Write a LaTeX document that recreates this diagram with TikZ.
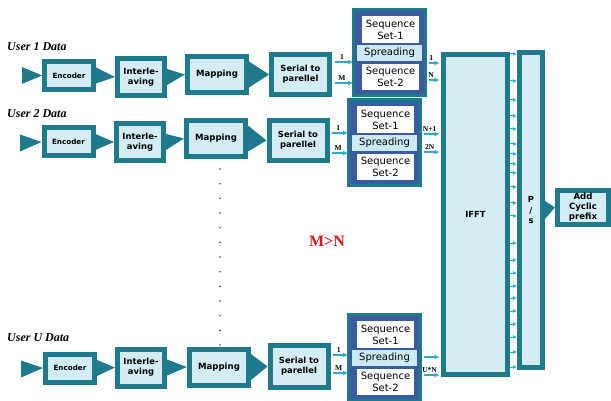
\documentclass[tikz,border=0pt]{standalone}
\usepackage{fontspec}
\setmainfont{DejaVu Sans}
\newfontfamily\serifT{Liberation Serif}
\usetikzlibrary{arrows.meta,calc}
\definecolor{tealc}{HTML}{1F7A8C}
\definecolor{lightc}{HTML}{D4EDF5}
\definecolor{bandc}{HTML}{CBEAF3}
\definecolor{navyc}{HTML}{3A5C9E}
\definecolor{arrc}{HTML}{2EA8CB}
\definecolor{redc}{HTML}{D7191C}
\definecolor{dotc}{HTML}{404860}
\newcommand{\SprGrp}[3]{%
  \node[grpframe] (#1) at (#2+37.5,#3+44.5) {};
  \node[seqbox, minimum height=27pt] (#1a) at (#2+38.5,#3+21.5) {Sequence\\Set-1};
  \node[sprband] (#1b) at (#2+37.5,#3+45) {Spreading};
  \node[seqbox, minimum height=26pt] (#1c) at (#2+38.5,#3+69) {Sequence\\Set-2};
}
\newcommand{\TriArr}[3]{%
  \fill[tealc] ($(#1.east)+(0,#3)$) -- (#2.west) -- ($(#1.east)+(0,-#3)$) -- cycle;
}
\newcommand{\InArr}[3]{%
  \fill[tealc] ($(#1)+(0,#3)$) -- (#2.west) -- ($(#1)+(0,-#3)$) -- cycle;
}
\begin{document}
\begin{tikzpicture}[x=1pt,y=-1pt,
  blk/.style={draw=tealc, line width=5pt, fill=lightc, inner sep=0pt, align=center,
    font=\bfseries\fontsize{8.4}{10}\selectfont},
  encblk/.style={blk, minimum width=49pt, minimum height=28pt, font=\bfseries\fontsize{7.2}{8}\selectfont},
  intblk/.style={blk, minimum width=47pt, minimum height=37pt},
  mapblk/.style={blk, minimum width=59pt, minimum height=36pt, font=\bfseries\fontsize{8.6}{10}\selectfont},
  spblk/.style={blk, minimum width=58pt, minimum height=40pt},
  grpframe/.style={draw=tealc, line width=3pt, fill=navyc, inner sep=0pt, minimum width=72pt, minimum height=86pt},
  seqbox/.style={fill=white, inner sep=0pt, minimum width=57pt, align=center, font=\fontsize{10}{12}\selectfont},
  sprband/.style={fill=bandc, inner sep=0pt, minimum width=65pt, minimum height=16pt, font=\fontsize{10}{12}\selectfont},
  thinarr/.style={draw=arrc, line width=1.3pt, -{Latex[length=5pt,width=5pt]}},
  lbl/.style={font=\serifT\bfseries\fontsize{7.5}{8}\selectfont, inner sep=0.5pt},
  user/.style={font=\serifT\bfseries\itshape\fontsize{12}{14}\selectfont, anchor=west, inner sep=0pt}
]
\useasboundingbox (0,0) rectangle (611,401);

% user labels
\node[user] (u1) at (7,47) {User 1 Data};
\node[user] (u2) at (7,114) {User 2 Data};
\node[user] (uU) at (7,337.5) {User U Data};

% row 1
\node[encblk] (enc1) at (69,75.5) {Encoder};
\node[intblk] (int1) at (141,77) {Interle-\\aving};
\node[mapblk] (map1) at (217,74.5) {Mapping};
\node[spblk] (sp1) at (300.5,74.5) {Serial to\\parellel};
\SprGrp{g1}{352}{8}
% row 2
\node[encblk] (enc2) at (68.5,142) {Encoder};
\node[intblk] (int2) at (140,142) {Interle-\\aving};
\node[mapblk] (map2) at (216,138.5) {Mapping};
\node[spblk] (sp2) at (298,140.5) {Serial to\\parellel};
\SprGrp{g2}{347}{98}
% row U
\node[encblk] (encU) at (70,368) {Encoder};
\node[intblk] (intU) at (141,367.5) {Interle-\\aving};
\node[mapblk] (mapU) at (219,367) {Mapping};
\node[spblk, minimum height=42pt] (spU) at (299,366.5) {Serial to\\parellel};
\SprGrp{gU}{347}{313}

% IFFT, P/S, CP
\node[blk, minimum width=64pt, minimum height=320pt] (ifft) at (475.5,214.5) {IFFT};
\node[blk, minimum width=23pt, minimum height=315pt, font=\bfseries\fontsize{8.4}{10.5}\selectfont] (ps) at (531,210) {P\\/\\s};
\node[blk, minimum width=51pt, minimum height=34pt, font=\bfseries\fontsize{8.6}{10}\selectfont] (acp) at (583,207.5) {Add\\Cyclic\\prefix};

% input triangles
\coordinate (in1) at (22,75.5);
\coordinate (in2) at (20,143);
\coordinate (inU) at (21,369);
\InArr{in1}{enc1}{8.5}
\InArr{in2}{enc2}{8.5}
\InArr{inU}{encU}{8.5}

% chain triangles
\TriArr{enc1}{int1}{8}
\TriArr{int1}{map1}{8}
\TriArr{map1}{sp1}{13}
\TriArr{enc2}{int2}{8}
\TriArr{int2}{map2}{8}
\TriArr{map2}{sp2}{13}
\TriArr{encU}{intU}{8}
\TriArr{intU}{mapU}{8}
\TriArr{mapU}{spU}{13}
\TriArr{ps}{acp}{9}

% S/P to spreading arrows
\path (0,62) coordinate (r1a) (0,83) coordinate (r1b) (0,63) coordinate (r1c) (0,80) coordinate (r1d);
\path (0,133) coordinate (r2a) (0,153) coordinate (r2b) (0,134) coordinate (r2c) (0,152) coordinate (r2d);
\path (0,355) coordinate (rUa) (0,373) coordinate (rUb) (0,357) coordinate (rUc) (0,375) coordinate (rUd);

\draw[thinarr, shorten <=2.5pt, shorten >=-1pt] (sp1.east |- r1a) -- node[lbl, above=1.5pt]{1} (g1.west |- r1a);
\draw[thinarr, shorten <=2.5pt, shorten >=-1pt] (sp1.east |- r1b) -- node[lbl, above=1.5pt]{M} (g1.west |- r1b);
\draw[thinarr, shorten <=2.5pt, shorten >=-1pt] (sp2.east |- r2a) -- node[lbl, above=1.5pt]{1} (g2.west |- r2a);
\draw[thinarr, shorten <=2.5pt, shorten >=-1pt] (sp2.east |- r2b) -- node[lbl, above=1.5pt]{M} (g2.west |- r2b);
\draw[thinarr, shorten <=2.5pt, shorten >=-1pt] (spU.east |- rUa) -- node[lbl, above=1.5pt]{1} (gU.west |- rUa);
\draw[thinarr, shorten <=2.5pt, shorten >=-1pt] (spU.east |- rUb) -- node[lbl, above=1.5pt]{M} (gU.west |- rUb);

% spreading to IFFT arrows
\draw[thinarr, shorten <=1.5pt, shorten >=1.5pt] (g1.east |- r1c) -- node[lbl, above=1.5pt, pos=0.3]{1} (ifft.west |- r1c);
\draw[thinarr, shorten <=1.5pt, shorten >=1.5pt] (g1.east |- r1d) -- node[lbl, above=1.5pt, pos=0.3]{N} (ifft.west |- r1d);
\draw[thinarr, shorten <=1.5pt, shorten >=1.5pt] (g2.east |- r2c) -- node[lbl, above=1.5pt, pos=0.4]{N+1} (ifft.west |- r2c);
\draw[thinarr, shorten <=1.5pt, shorten >=1.5pt] (g2.east |- r2d) -- node[lbl, above=1.5pt, pos=0.4]{2N} (ifft.west |- r2d);
\draw[thinarr, shorten <=1.5pt, shorten >=1.5pt] (gU.east |- rUc) -- (ifft.west |- rUc);
\draw[thinarr, shorten <=1.5pt, shorten >=1.5pt] (gU.east |- rUd) -- node[lbl, above=1.5pt, pos=0.4]{U*N} (ifft.west |- rUd);

% IFFT to P/S arrows
\foreach \yy in {54,81,100,116,129,144,154,164,173,187,203,216,243,260,273,286,298,311,324,337,352,367} {
  \path (0,\yy) coordinate (tq);
  \draw[thinarr, line width=1pt, -{Latex[length=4pt,width=4pt]}] (ifft.east |- tq) -- (ps.west |- tq);
}

% vertical dots
\foreach \i in {0,...,12} {
  \fill[dotc] (220,169+\i*14.67) circle (0.9pt);
}

% M>N
\node[font=\serifT\bfseries\fontsize{16}{18}\selectfont, text=redc] (cond) at (327,241) {M>N};
\end{tikzpicture}
\end{document}
